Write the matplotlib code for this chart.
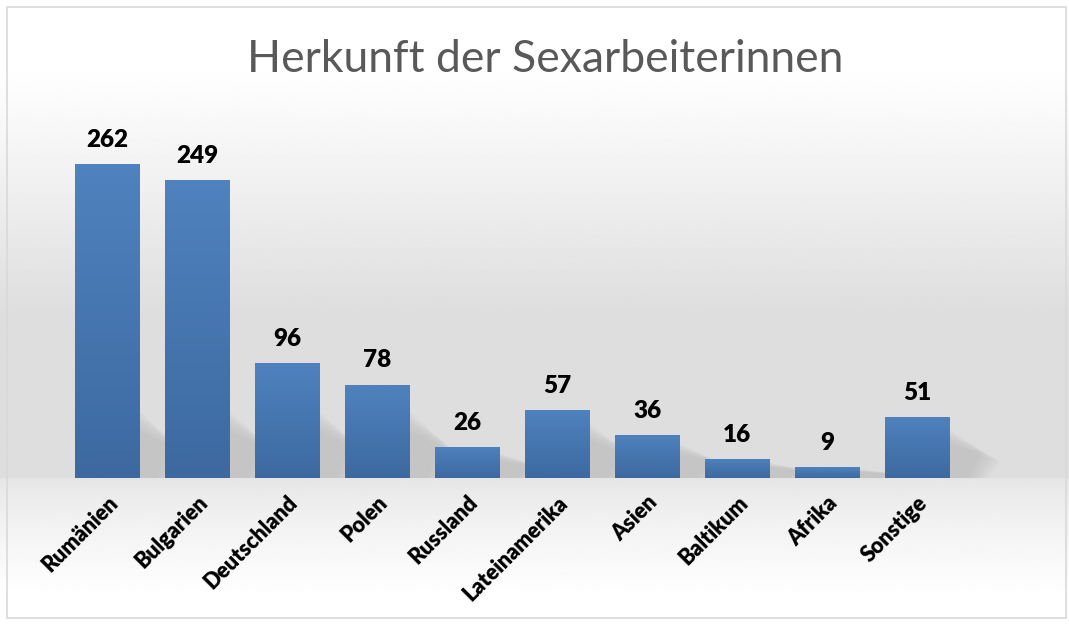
import numpy as np
import matplotlib.pyplot as plt
from matplotlib.patches import Rectangle
from matplotlib.colors import LinearSegmentedColormap

# data
categories = ["Rumänien", "Bulgarien", "Deutschland", "Polen", "Russland",
              "Lateinamerika", "Asien", "Baltikum", "Afrika", "Sonstige"]
values = [262, 249, 96, 78, 26, 57, 36, 16, 9, 51]
title = "Herkunft der Sexarbeiterinnen"

W, H = 1069, 625
fig = plt.figure(figsize=(W / 100, H / 100), dpi=100)

# background gradient (white -> light gray at the baseline -> white)
bg = fig.add_axes([0, 0, 1, 1], zorder=0)
bg.set_axis_off()
ys = np.linspace(0, 1, 600)  # 0 = top
base = 478 / H
shade = np.where(ys < base,
                 1.0 - 0.13 * np.clip((ys - 0.1) / (0.5 - 0.1), 0, 1) ** 1.1,
                 0.895 + 0.105 * np.clip((ys - base) / (0.96 - base), 0, 1) ** 0.7)
img = np.repeat(shade[:, None], 2, axis=1)
bg.imshow(img, cmap="gray", vmin=0, vmax=1, aspect="auto",
          extent=[0, 1, 0, 1], interpolation="bilinear")
bg.set_xlim(0, 1)
bg.set_ylim(0, 1)
bg.add_patch(Rectangle((7 / W, 7 / H), 1059 / W, 611 / H, fill=False,
                       edgecolor="#d9d9d9", linewidth=1.2))

# main axes
ax = fig.add_axes([62 / W, (H - 478) / H, 990 / W, 359.4 / H], zorder=1)
ax.patch.set_alpha(0)
x = np.arange(len(categories))
bars = ax.bar(x, values, width=0.72, color="#4a7ab5", zorder=3)

cmap = LinearSegmentedColormap.from_list("bar", ["#3d69a0", "#4f82be"])
grad = np.linspace(0, 1, 256)[:, None]
for i, b in enumerate(bars):
    x0, w, h = b.get_x(), b.get_width(), b.get_height()
    im = ax.imshow(grad, cmap=cmap, aspect="auto", origin="lower",
                   extent=[x0, x0 + w, 0, h], zorder=4, interpolation="bilinear")
    im.set_clip_path(b)
    # soft shadow behind the bar
    sh = min(h, 70)
    for k in range(10):
        d = k * 0.025
        ax.fill([x0 + w - 0.05, x0 + w + 0.2 + d, x0 + w + 0.35 + d, x0 + w - 0.05],
                [0, 0, sh * (0.45 - k * 0.02), sh * (0.85 - k * 0.03)],
                color="#909090", alpha=0.03, lw=0, zorder=2)
    ax.text(x0 + w / 2, h + 11, f"{values[i]}",
            ha="center", va="bottom", fontsize=17.5, fontweight="heavy",
            family="Lato", color="black")
ax.set_xlim(-0.5, 10.5)
ax.set_ylim(0, 300)

ax.set_xticks(x)
ax.set_xticklabels(categories, rotation=45, ha="right", rotation_mode="anchor",
                   fontsize=15.5, fontweight="heavy", family="Lato")
ax.tick_params(axis="x", length=0, pad=10)
ax.set_yticks([])
for s in ax.spines.values():
    s.set_visible(False)

fig.text(545 / W, 1 - 59 / H, title, ha="center", va="center",
         fontsize=32, color="#595959", family="Lato")

fig.savefig("out.png", dpi=100)
